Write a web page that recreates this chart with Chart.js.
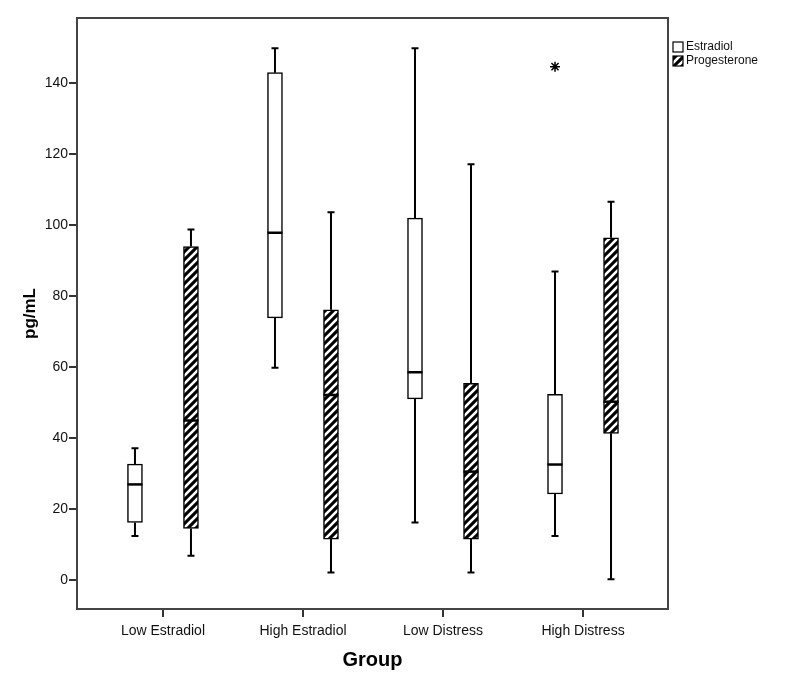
<!DOCTYPE html>
<html>
<head>
<meta charset="utf-8">
<title>pg/mL by Group</title>
<script src="https://cdn.jsdelivr.net/npm/chart.js@4.4.1/dist/chart.umd.min.js"></script>
<style>
  html, body { margin: 0; padding: 0; background: #fff; }
  #wrap { width: 800px; height: 688px; }
</style>
</head>
<body>
<div id="wrap"><canvas id="boxChart" width="800" height="688"></canvas></div>
<script>
// Data
const categories = ['Low Estradiol', 'High Estradiol', 'Low Distress', 'High Distress'];
const seriesNames = ['Estradiol', 'Progesterone'];

const estradiolMin    = [12.4, 59.8, 16.2, 12.4];
const estradiolQ1     = [16.2, 73.8, 51.0, 24.2];
const estradiolMedian = [26.9, 97.8, 58.5, 32.5];
const estradiolQ3     = [32.6, 142.9, 101.9, 52.3];
const estradiolMax    = [37.1, 149.8, 149.8, 86.9];

const progMin    = [6.8, 2.1, 2.1, 0.2];
const progQ1     = [14.5, 11.5, 11.5, 41.3];
const progMedian = [44.9, 52.1, 30.5, 50.2];
const progQ3     = [93.9, 76.1, 55.4, 96.4];
const progMax    = [98.7, 103.6, 117.1, 106.5];

// outliers: [category index, series index, value]
const outliers = [[3, 0, 144.6]];

const yTicks = [0, 20, 40, 60, 80, 100, 120, 140];

const FONT = "'Liberation Sans', Arial, sans-serif";
const seriesOffset = [-0.2, 0.2];

// Hatch fill for progesterone boxes
const makeHatch = () => {
    const n = 8;
    const c = document.createElement('canvas');
    c.width = n; c.height = n;
    const g = c.getContext('2d');
    g.fillStyle = '#000';
    g.fillRect(0, 0, n, n);
    g.strokeStyle = '#fff';
    g.lineWidth = 2.6;
    g.beginPath();
    g.moveTo(-1, n + 1); g.lineTo(n + 1, -1);
    g.moveTo(-2, 2); g.lineTo(2, -2);
    g.moveTo(n - 2, n + 2); g.lineTo(n + 2, n - 2);
    g.stroke();
    return g.createPattern(c, 'repeat');
};
const hatch = makeHatch();

const stats = [
    { min: estradiolMin, q1: estradiolQ1, med: estradiolMedian, q3: estradiolQ3, max: estradiolMax },
    { min: progMin, q1: progQ1, med: progMedian, q3: progQ3, max: progMax }
];
const fills = ['#fff', hatch];

const boxDatasets = stats.map((s, si) => ({
    label: seriesNames[si],
    data: categories.map((c, i) => ({ x: i + seriesOffset[si], y: [s.q1[i], s.q3[i]] })),
    backgroundColor: fills[si],
    borderColor: '#000',
    borderWidth: 1.5,
    borderSkipped: false,
    barThickness: 15,
    grouped: false
}));

const outlierDataset = {
    type: 'scatter',
    label: 'outliers',
    data: outliers.map(o => ({ x: o[0] + seriesOffset[o[1]], y: o[2] })),
    pointStyle: 'star',
    radius: 5,
    borderColor: '#000',
    borderWidth: 1.5,
    backgroundColor: '#000'
};

// Whiskers, caps and medians drawn from the bar elements and the y scale
const whiskerPlugin = {
    id: 'whiskers',
    afterDatasetsDraw(chart) {
        const { ctx, scales: { y } } = chart;
        ctx.save();
        ctx.strokeStyle = '#000';
        stats.forEach((s, si) => {
            const meta = chart.getDatasetMeta(si);
            meta.data.forEach((bar, i) => {
                const cx = bar.x;
                const half = bar.width / 2;
                const yMin = y.getPixelForValue(s.min[i]);
                const yQ1 = y.getPixelForValue(s.q1[i]);
                const yQ3 = y.getPixelForValue(s.q3[i]);
                const yMax = y.getPixelForValue(s.max[i]);
                const yMed = y.getPixelForValue(s.med[i]);
                ctx.lineWidth = 2;
                ctx.beginPath();
                ctx.moveTo(cx, yQ3); ctx.lineTo(cx, yMax);
                ctx.moveTo(cx, yQ1); ctx.lineTo(cx, yMin);
                ctx.moveTo(cx - 3.5, yMax); ctx.lineTo(cx + 3.5, yMax);
                ctx.moveTo(cx - 3.5, yMin); ctx.lineTo(cx + 3.5, yMin);
                ctx.stroke();
                ctx.lineWidth = 2.5;
                ctx.beginPath();
                ctx.moveTo(cx - half, yMed); ctx.lineTo(cx + half, yMed);
                ctx.stroke();
            });
        });
        ctx.restore();
    }
};

// Frame around the plot and the side legend
const framePlugin = {
    id: 'frame',
    afterDraw(chart) {
        const { ctx, chartArea: a } = chart;
        ctx.save();
        ctx.strokeStyle = '#444';
        ctx.lineWidth = 2;
        ctx.strokeRect(a.left, a.top, a.right - a.left, a.bottom - a.top);

        ctx.font = '12px ' + FONT;
        ctx.textBaseline = 'middle';
        ctx.textAlign = 'left';
        seriesNames.forEach((name, si) => {
            const bx = a.right + 5;
            const cy = 47 + si * 14;
            ctx.fillStyle = fills[si];
            ctx.fillRect(bx, cy - 5, 10, 10);
            ctx.lineWidth = 1.2;
            ctx.strokeStyle = '#000';
            ctx.strokeRect(bx, cy - 5, 10, 10);
            ctx.fillStyle = '#111';
            ctx.fillText(name, bx + 13, cy);
        });
        ctx.restore();
    }
};

const initBoxChart = () => {
    const ctx = document.getElementById('boxChart').getContext('2d');
    new Chart(ctx, {
        type: 'bar',
        data: { datasets: [...boxDatasets, outlierDataset] },
        options: {
            responsive: false,
            animation: false,
            events: [],
            layout: { padding: { top: 18, right: 132, bottom: 0, left: 0 } },
            plugins: {
                legend: { display: false },
                tooltip: { enabled: false }
            },
            scales: {
                x: {
                    type: 'linear',
                    offset: false,
                    min: -0.614,
                    max: 3.607,
                    afterBuildTicks: ax => { ax.ticks = categories.map((c, i) => ({ value: i })); },
                    afterFit: ax => { ax.height = 79; },
                    ticks: {
                        callback: v => categories[v],
                        font: { family: FONT, size: 14 },
                        color: '#111',
                        padding: 6,
                        maxRotation: 0,
                        autoSkip: false
                    },
                    grid: { offset: false, drawOnChartArea: false, tickLength: 8, color: '#333', lineWidth: 2 },
                    border: { display: false },
                    title: {
                        display: true,
                        text: 'Group',
                        font: { family: FONT, size: 20, weight: 'bold' },
                        color: '#000',
                        padding: { top: 0, bottom: 16 }
                    }
                },
                y: {
                    min: -8.2,
                    max: 158.3,
                    afterBuildTicks: ax => { ax.ticks = yTicks.map(v => ({ value: v })); },
                    afterFit: ax => { ax.width = 77; },
                    ticks: {
                        font: { family: FONT, size: 14 },
                        color: '#111',
                        padding: 1
                    },
                    grid: { drawOnChartArea: false, tickLength: 8, color: '#333', lineWidth: 2 },
                    border: { display: false },
                    title: {
                        display: true,
                        text: 'pg/mL',
                        font: { family: FONT, size: 17, weight: 'bold' },
                        color: '#000',
                        padding: { top: 20, bottom: 0 }
                    }
                }
            }
        },
        plugins: [whiskerPlugin, framePlugin]
    });
};

document.addEventListener('DOMContentLoaded', () => {
    initBoxChart();
});
</script>
</body>
</html>
